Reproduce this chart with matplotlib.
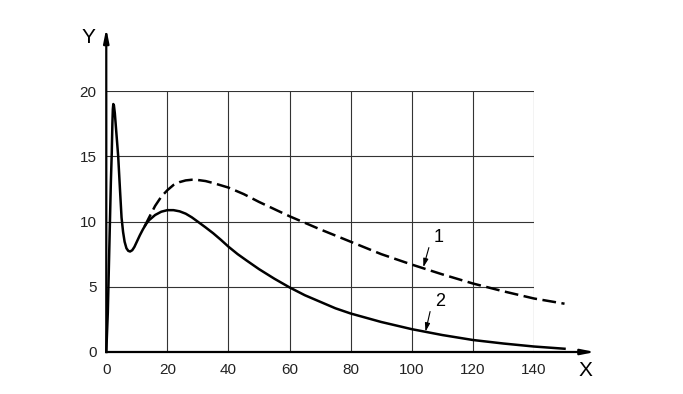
import matplotlib
matplotlib.use("Agg")
import matplotlib.pyplot as plt

plt.rcParams['font.family'] = ['Liberation Sans', 'DejaVu Sans']

# Curve 2 (solid)
x2 = [0, 0.5, 0.9, 1.2, 1.5, 1.8, 2.0, 2.15, 2.3, 2.5, 2.8, 3.3, 3.9, 4.5, 5.0, 5.5,
      6.0, 6.6, 7.2, 7.8, 8.5, 9.2, 10.0, 11.0, 12.0, 13.0, 14.0, 16.0, 18.0, 20.0,
      22.0, 24.0, 26.0, 28.0, 30.0, 32.5, 35.0, 37.5, 40.0, 43.0, 46.0, 50.0, 55.0,
      60.0, 65.0, 70.0, 75.0, 80.0, 90.0, 100.0, 110.0, 120.0, 130.0, 140.0, 150.0]
y2 = [0, 3, 7, 10, 13, 15.3, 17.5, 18.6, 19.0, 18.9, 18.3, 16.8, 15.0, 12.4, 10.3, 9.2,
      8.45, 7.95, 7.75, 7.7, 7.8, 8.05, 8.45, 8.95, 9.4, 9.8, 10.1, 10.5, 10.75, 10.87,
      10.87, 10.78, 10.6, 10.32, 9.98, 9.55, 9.1, 8.6, 8.07, 7.5, 7.0, 6.35, 5.62,
      4.95, 4.35, 3.85, 3.35, 2.95, 2.3, 1.75, 1.3, 0.92, 0.65, 0.42, 0.25]

# Curve 1 (dashed)
x1 = [12.5, 14, 16, 18, 20, 22, 24, 26, 28, 30, 32.5, 35, 40, 45, 50, 55, 60, 70,
      80, 90, 100, 110, 120, 130, 140, 150]
y1 = [9.6, 10.3, 11.2, 11.9, 12.4, 12.8, 13.02, 13.15, 13.2, 13.18, 13.1, 12.95,
      12.6, 12.1, 11.5, 10.95, 10.4, 9.4, 8.45, 7.5, 6.7, 5.95, 5.25, 4.65, 4.1, 3.7]

xticks = [0, 20, 40, 60, 80, 100, 120, 140]
yticks = [0, 5, 10, 15, 20]

fig = plt.figure(figsize=(6.83, 3.94), dpi=100)
ax = fig.add_axes([0.1556, 0.1066, 0.6262, 0.6624])
ax.set_xlim(0, 140)
ax.set_ylim(0, 20)

ax.set_xticks(xticks)
ax.set_yticks(yticks)
ax.set_xticklabels([str(v) for v in xticks], fontsize=11)
ax.set_yticklabels([str(v) for v in yticks], fontsize=11)
ax.tick_params(length=0, colors='#222222')
ax.tick_params(axis='x', pad=8)
ax.tick_params(axis='y', pad=7)
ax.grid(True, color='#333333', linewidth=0.8)
for s in ax.spines.values():
    s.set_visible(False)

# axes with arrows
ax.annotate('', xy=(160, 0), xytext=(0, 0), annotation_clip=False,
            arrowprops=dict(arrowstyle='-|>,head_length=0.8,head_width=0.16',
                            lw=1.6, color='black', shrinkA=0, shrinkB=0))
ax.annotate('', xy=(0, 24.8), xytext=(0, 0), annotation_clip=False,
            arrowprops=dict(arrowstyle='-|>,head_length=0.8,head_width=0.16',
                            lw=1.6, color='black', shrinkA=0, shrinkB=0))

ax.plot(x2, y2, color='black', lw=1.8, clip_on=False, zorder=5,
        solid_joinstyle='round')
ax.plot(x1, y1, color='black', lw=1.8, linestyle=(0, (5.5, 2.2)), clip_on=False,
        zorder=5)

ax.text(-5.8, 24.1, 'Y', fontsize=15, ha='center', va='center', clip_on=False)
ax.text(156.9, -1.4, 'X', fontsize=15, ha='center', va='center', clip_on=False)

# curve labels with leader arrows
ax.text(108.8, 8.75, '1', fontsize=13, ha='center', va='center', clip_on=False)
ax.text(109.4, 3.85, '2', fontsize=13, ha='center', va='center', clip_on=False)
ax.annotate('', xy=(103.8, 6.5), xytext=(105.6, 8.0), annotation_clip=False,
            arrowprops=dict(arrowstyle='-|>,head_length=0.5,head_width=0.15',
                            lw=0.8, color='black', shrinkA=0, shrinkB=0))
ax.annotate('', xy=(104.5, 1.56), xytext=(106.0, 3.1), annotation_clip=False,
            arrowprops=dict(arrowstyle='-|>,head_length=0.5,head_width=0.15',
                            lw=0.8, color='black', shrinkA=0, shrinkB=0))

fig.savefig('out.png', dpi=100)
